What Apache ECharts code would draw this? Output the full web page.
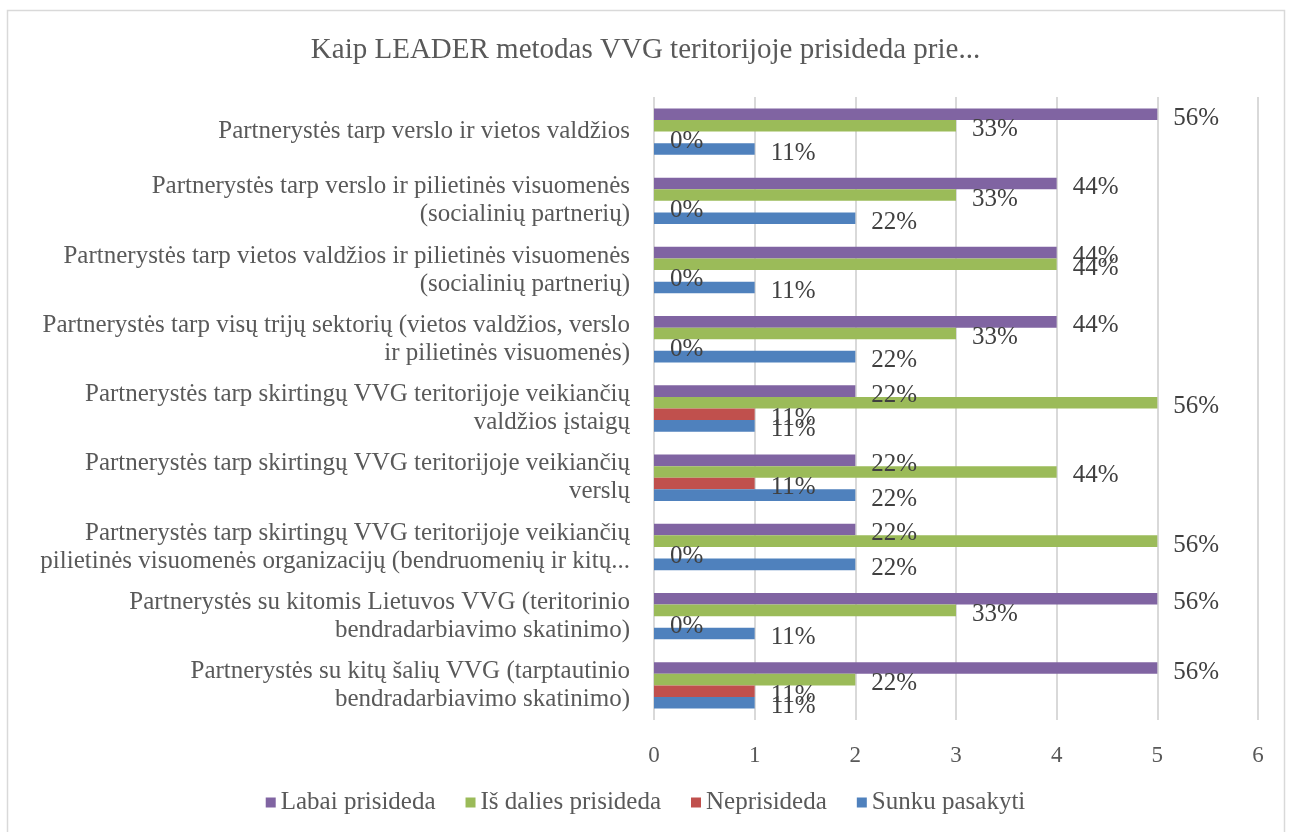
<!DOCTYPE html>
<html>
<head>
<meta charset="utf-8">
<script src="https://cdn.jsdelivr.net/npm/echarts@6/dist/echarts.min.js"></script>
<style>
  html, body { margin: 0; padding: 0; background: #fff; }
  #chart { width: 1291px; height: 832px; }
</style>
</head>
<body>
<div id="chart"></div>
<script>
const categories = [
  'Partnerystės tarp verslo ir vietos valdžios',
  'Partnerystės tarp verslo ir pilietinės visuomenės\n(socialinių partnerių)',
  'Partnerystės tarp vietos valdžios ir pilietinės visuomenės\n(socialinių partnerių)',
  'Partnerystės tarp visų trijų sektorių (vietos valdžios, verslo\nir pilietinės visuomenės)',
  'Partnerystės tarp skirtingų VVG teritorijoje veikiančių\nvaldžios įstaigų',
  'Partnerystės tarp skirtingų VVG teritorijoje veikiančių\nverslų',
  'Partnerystės tarp skirtingų VVG teritorijoje veikiančių\npilietinės visuomenės organizacijų (bendruomenių ir kitų...',
  'Partnerystės su kitomis Lietuvos VVG (teritorinio\nbendradarbiavimo skatinimo)',
  'Partnerystės su kitų šalių VVG (tarptautinio\nbendradarbiavimo skatinimo)'
];
const labai = [5, 4, 4, 4, 2, 2, 2, 5, 5];
const isDalies = [3, 3, 4, 3, 5, 4, 5, 3, 2];
const neprisideda = [0, 0, 0, 0, 1, 1, 0, 0, 1];
const sunku = [1, 2, 1, 2, 1, 2, 2, 1, 1];
const respondents = 9;

const font = '"Liberation Serif", "DejaVu Serif", serif';

function makeSeries(name, data, color) {
  return {
    name: name,
    type: 'bar',
    data: data,
    barGap: '0%',
    barCategoryGap: '33%',
    itemStyle: { color: color },
    label: {
      show: true,
      position: 'right',
      distance: 16,
      offset: [0, 4],
      color: '#404040',
      fontFamily: font,
      fontSize: 25,
      formatter: p => Math.round(p.value / respondents * 100) + '%'
    }
  };
}

const chart = echarts.init(document.getElementById('chart'));
chart.setOption({
  animation: false,
  title: {
    text: 'Kaip LEADER metodas VVG teritorijoje prisideda prie...',
    left: 'center',
    top: 31,
    textStyle: { fontFamily: font, fontSize: 29, fontWeight: 'normal', color: '#595959' }
  },
  graphic: [{
    type: 'rect',
    shape: { x: 7.5, y: 10.5, width: 1277, height: 840 },
    style: { fill: 'none', stroke: '#d9d9d9', lineWidth: 1.5 }
  }],
  legend: {
    bottom: 12,
    left: 'center',
    itemWidth: 10,
    itemHeight: 10,
    itemGap: 30,
    icon: 'rect',
    textStyle: { fontFamily: font, fontSize: 25, color: '#595959' },
    data: ['Labai prisideda', 'Iš dalies prisideda', 'Neprisideda', 'Sunku pasakyti']
  },
  grid: { left: 654, right: 33, top: 97, bottom: 112 },
  xAxis: {
    type: 'value',
    min: 0,
    max: 6,
    interval: 1,
    axisLine: { show: false },
    axisTick: { show: false },
    axisLabel: { color: '#595959', fontFamily: font, fontSize: 23, margin: 24 },
    splitLine: { lineStyle: { color: '#d9d9d9', width: 2 } }
  },
  yAxis: {
    type: 'category',
    inverse: true,
    data: categories,
    axisLine: { show: false },
    axisTick: { show: false },
    axisLabel: {
      color: '#595959',
      fontFamily: font,
      fontSize: 25,
      lineHeight: 28,
      margin: 24,
      align: 'right',
      padding: [6, 0, 0, 0]
    }
  },
  series: [
    makeSeries('Labai prisideda', labai, '#8064a2'),
    makeSeries('Iš dalies prisideda', isDalies, '#9bbb59'),
    makeSeries('Neprisideda', neprisideda, '#c0504d'),
    makeSeries('Sunku pasakyti', sunku, '#4f81bd')
  ]
});
</script>
</body>
</html>
